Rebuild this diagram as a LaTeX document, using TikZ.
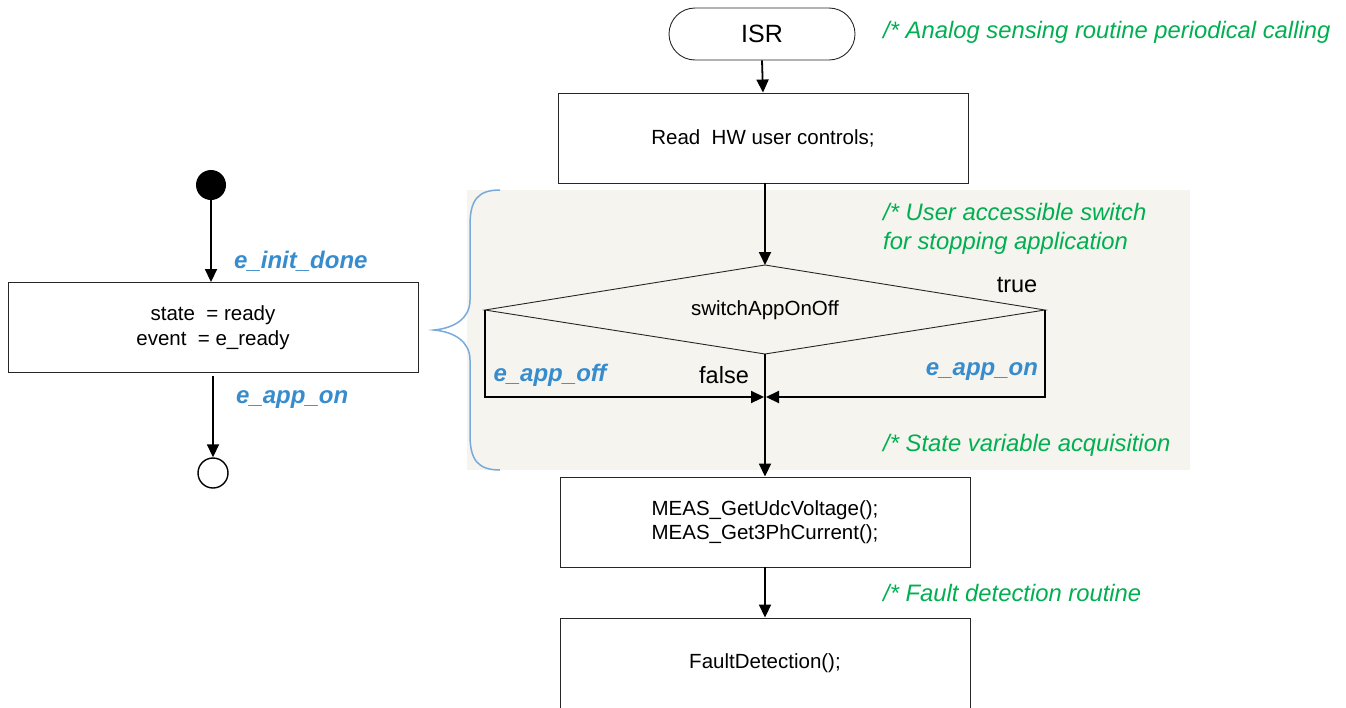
\documentclass[tikz,border=0pt]{standalone}
\usepackage{fontspec}
\setmainfont{Liberation Sans}
\usetikzlibrary{arrows.meta}
\definecolor{cmtgreen}{RGB}{0,176,80}
\definecolor{evblue}{RGB}{55,140,205}
\definecolor{bracecol}{RGB}{120,170,220}
\definecolor{panel}{RGB}{245,244,238}
\tikzset{
  flowbox/.style={draw=black!85, line width=0.9pt, fill=white, minimum width=410pt, minimum height=90pt, inner sep=0pt, align=center, font=\fontsize{20.5}{24.5}\selectfont},
  flowarrow/.style={line width=1.8pt, -{Triangle[length=13pt,width=12pt]}},
  branch/.style={line width=2.2pt, -{Triangle[length=13pt,width=12pt]}},
  comment/.style={text=cmtgreen, font=\fontsize{23.8}{29}\selectfont\itshape, anchor=west, inner sep=0pt, align=left},
  evlabel/.style={text=evblue, font=\fontsize{24}{28}\selectfont\bfseries\itshape, inner sep=0pt},
  plain/.style={font=\fontsize{20.5}{24}\selectfont, inner sep=0pt}
}
\begin{document}
\begin{tikzpicture}[x=1pt,y=-1pt]
\useasboundingbox (0,0) rectangle (1346,707);
\clip (0,0) rectangle (1346,707);

% shaded panel around the decision
\fill[panel] (467,190) rectangle (1190,470);
% curly brace
\draw[bracecol, line width=1.5pt]
  (500,190) .. controls (478,190) and (470,200) .. (470,225)
  -- (470,300) .. controls (470,318) and (455,328) .. (434,330)
  .. controls (455,332) and (470,342) .. (470,360)
  -- (470,435) .. controls (470,460) and (478,470) .. (500,470);

% ---------- state machine on the left ----------
\node[circle, fill=black, minimum size=30pt, inner sep=0pt] (init) at (211,185) {};
\node[flowbox] (state) at (213,327.5) {state\ \ = ready\\event\ \ = e\_ready};
\node[circle, draw=black, line width=1.4pt, fill=white, minimum size=30pt, inner sep=0pt] (final) at (213,473) {};
\draw[flowarrow] (init.south) -- (init.south |- state.north);
\coordinate (sout) at (213,376);
\draw[flowarrow] (sout) -- (final.north);
\node[evlabel, anchor=west] (linit) at (234,261) {e\_init\_done};
\node[evlabel, anchor=west] (lon1) at (236,400) {e\_app\_on};

% ---------- flowchart on the right ----------
\node[draw=black!85, line width=0.9pt, rounded corners=26pt, minimum width=186pt, minimum height=52pt, inner sep=0pt, font=\fontsize{25}{28}\selectfont] (isr) at (762,34) {ISR};
\node[flowbox] (read) at (763,138) {Read\ \ HW user controls;};
\draw[flowarrow] (isr.south) -- (read.north);

% decision
\coordinate (dT) at (765,265);
\coordinate (dL) at (485,310);
\coordinate (dR) at (1045,310);
\coordinate (dB) at (765,354);
\draw[black!85, line width=0.9pt] (dT) -- (dR) -- (dB) -- (dL) -- cycle;
\node[plain] (sw) at (765,310) {switchAppOnOff};
\draw[flowarrow] (read.south -| dT) -- (dT);

\node[flowbox] (meas) at (765,522) {MEAS\_GetUdcVoltage();\\MEAS\_Get3PhCurrent();};
\coordinate (join) at (765,397);
\draw[branch] (dL) -- (dL |- join) -- ([xshift=-1pt]join);
\draw[branch] (dR) -- (dR |- join) -- ([xshift=1pt]join);
\draw[flowarrow] (dB) -- (meas.north);

\node[plain, font=\fontsize{23.5}{28}\selectfont] (ltrue) at (1017,285) {true};
\node[plain, font=\fontsize{23.5}{28}\selectfont] (lfalse) at (724,375) {false};
\node[evlabel] (loff) at (550,375) {e\_app\_off};
\node[evlabel] (lon2) at (982,372) {e\_app\_on};

\node[flowbox] (fault) at (765,663) {FaultDetection();};
\draw[flowarrow] (meas.south) -- (fault.north);

% comments
\node[comment] (c1) at (883,32) {/* Analog sensing routine periodical calling};
\node[comment] (c2) at (883,229) {/* User accessible switch\\for stopping application};
\node[comment] (c3) at (883,445) {/* State variable acquisition};
\node[comment] (c4) at (883,593) {/* Fault detection routine};
\end{tikzpicture}
\end{document}
